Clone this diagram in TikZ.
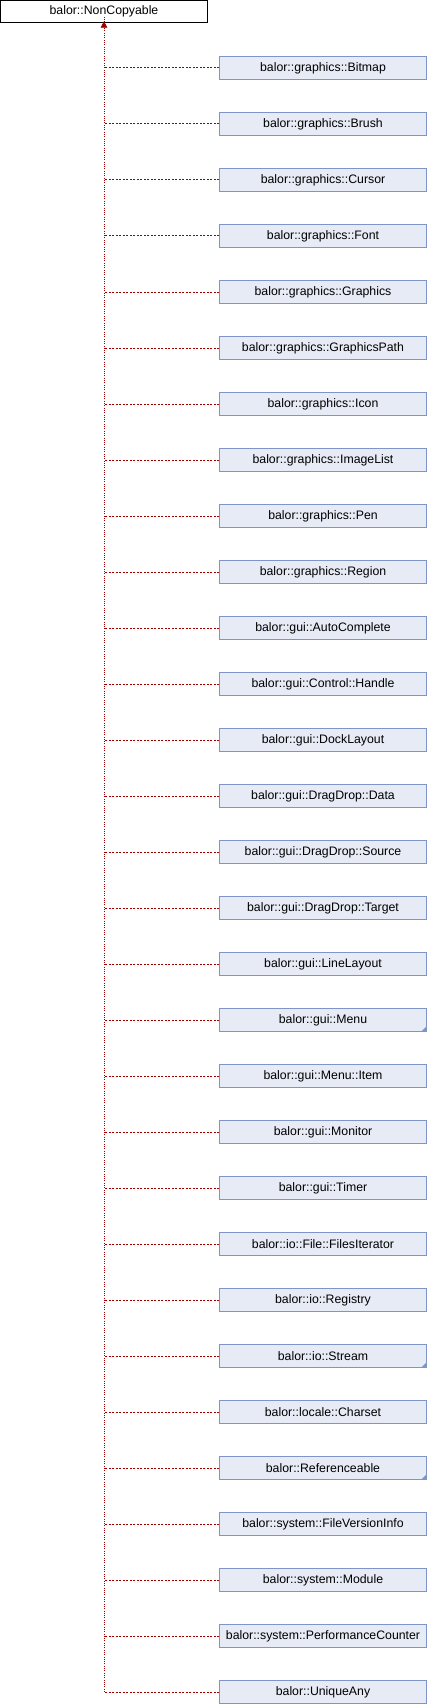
\documentclass[tikz,border=0pt]{standalone}
\usepackage{fontspec}
\setmainfont{Liberation Sans}
\usetikzlibrary{arrows.meta}
\definecolor{boxfill}{HTML}{E7EBF5}
\definecolor{boxline}{HTML}{7F95C9}
\definecolor{connred}{HTML}{9A0000}
\begin{document}
\begin{tikzpicture}[x=1pt,y=-1pt,
  base/.style={rectangle, minimum width=207pt, minimum height=22.5pt, inner sep=0pt, line width=1pt,
    font=\fontsize{12.3}{14}\selectfont, text=black},
  topbox/.style={base, draw=black, fill=white},
  childbox/.style={base, draw=boxline, fill=boxfill},
  hconn/.style={draw=connred, line width=1pt, dash pattern=on 2pt off 1.5pt},
  vconn/.style={draw=connred, line width=1pt, dash pattern=on 1pt off 1.3pt},
  marker/.style={fill=boxline, draw=none}]
\useasboundingbox (0,0) rectangle (428,1704);
\node[topbox] (top) at (104,11.7) {balor::NonCopyable};
\foreach \t [count=\i] in {
  balor::graphics::Bitmap,
  balor::graphics::Brush,
  balor::graphics::Cursor,
  balor::graphics::Font,
  balor::graphics::Graphics,
  balor::graphics::GraphicsPath,
  balor::graphics::Icon,
  balor::graphics::ImageList,
  balor::graphics::Pen,
  balor::graphics::Region,
  balor::gui::AutoComplete,
  balor::gui::Control::Handle,
  balor::gui::DockLayout,
  balor::gui::DragDrop::Data,
  balor::gui::DragDrop::Source,
  balor::gui::DragDrop::Target,
  balor::gui::LineLayout,
  balor::gui::Menu,
  balor::gui::Menu::Item,
  balor::gui::Monitor,
  balor::gui::Timer,
  balor::io::File::FilesIterator,
  balor::io::Registry,
  balor::io::Stream,
  balor::locale::Charset,
  balor::Referenceable,
  balor::system::FileVersionInfo,
  balor::system::Module,
  balor::system::PerformanceCounter,
  balor::UniqueAny}
{
  \node[childbox] (c\i) at (323, {68 + 56*(\i-1)}) {\t};
  \draw[hconn] (c\i.west) -- (c\i.west -| top.south);
}
\foreach \i in {18,24,26} {
  \fill[marker] ([shift={(-0.5,-0.5)}]c\i.south east) -- ++(-5,0) -- ++(5,-5) -- cycle;
}
\draw[vconn] (c30.west -| top.south) -- ([yshift=6]top.south);
\draw[draw=connred, fill=connred, line width=0.5pt] ([yshift=1.5]top.south) -- ++(-3,5.5) -- ++(6,0) -- cycle;
\end{tikzpicture}
\end{document}
